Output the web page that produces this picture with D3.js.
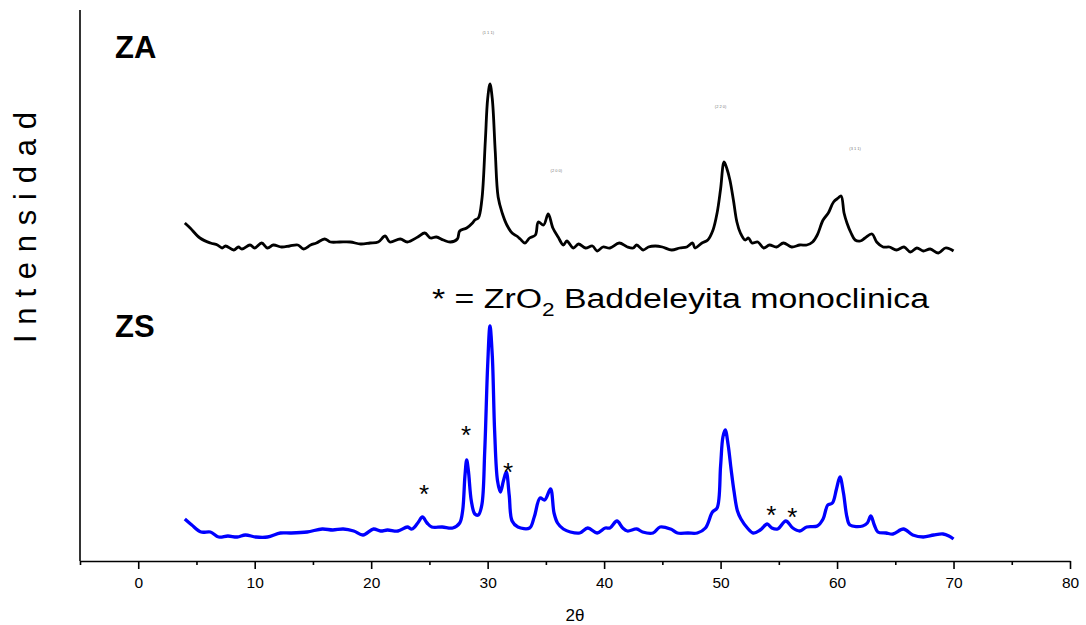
<!DOCTYPE html>
<html>
<head>
<meta charset="utf-8">
<script src="https://cdn.jsdelivr.net/npm/d3@7/dist/d3.min.js"></script>
<style>
  html, body { margin: 0; padding: 0; background: #fff; }
  svg { display: block; }
  text { font-family: Arial, "Liberation Sans", sans-serif; }
</style>
</head>
<body>
<svg id="chart" width="1086" height="625"></svg>
<script>
// X-ray diffraction patterns, 2θ (degrees) vs. intensity (arbitrary units)

// Sample ZA (black trace, offset upward)
const zaPattern = [
  [4.0,338],[4.46,333],[5.3,323],[6.2,318],[6.8,316],[7.2,313],[7.5,315],[8.2,311],[8.6,314],
  [8.9,312],[9.6,316],[10.0,313],[10.6,318],[11.1,313],[11.6,316],[12.3,314],[13.0,315],
  [13.7,316],[14.2,312],[14.8,316],[15.3,318],[16.0,322],[16.5,319],[17.3,319],[18.2,319],
  [19.1,317],[19.9,318],[20.6,319],[21.2,325],[21.6,319],[22.5,322],[23.1,319],[24.0,324],
  [24.6,328],[25.1,323],[25.6,324],[26.2,321],[26.8,319],[27.4,322],[27.6,330],[28.2,333],
  [28.7,338],[28.9,341],[29.2,343],[29.5,361],[29.8,420],[30.0,462],[30.2,477],[30.4,462],
  [30.65,410],[30.9,364],[31.25,348],[31.65,336],[32.1,328],[32.5,325],[32.8,322],[33.2,318],
  [33.6,323],[34.1,326],[34.35,339],[34.8,336],[35.2,347],[35.6,333],[36.05,324],[36.5,316],
  [36.8,320],[37.35,313],[37.8,317],[38.4,313],[39.0,315],[39.4,310],[39.9,314],[40.5,313],
  [41.3,318],[42.0,314],[42.5,313],[42.8,316],[43.35,311],[43.8,314],[44.4,315],[45.0,314],
  [45.8,311],[46.5,313],[47.1,314],[47.6,318],[47.8,313],[48.4,318],[48.9,321],[49.35,331],
  [49.7,348],[50.0,372],[50.3,399],[50.55,392],[50.8,381],[51.1,361],[51.4,339],[51.7,328],
  [52.1,321],[52.4,323],[52.7,318],[53.2,319],[53.7,313],[54.2,316],[54.8,314],[55.4,318],
  [56.1,314],[56.8,316],[57.4,316],[57.9,319],[58.3,326],[58.8,341],[59.25,348],[59.7,359],
  [60.1,363],[60.35,365],[60.6,348],[60.85,338],[61.2,328],[61.55,321],[62.0,320],[62.4,323],
  [63.0,327],[63.4,319],[63.95,314],[64.5,314],[65.1,311],[65.75,314],[66.3,309],[66.85,313],
  [67.4,310],[68.0,312],[68.7,308],[69.3,313],[69.7,312],[70.0,310]
];

// Sample ZS (blue trace)
const zsPattern = [
  [4.0,42],[4.6,36],[5.4,29],[6.2,29],[6.9,24],[7.7,25],[8.5,24],[9.2,26],[10.1,24],[11.1,24],
  [12.2,28],[13.1,28],[14.5,29],[15.8,32],[16.7,31],[17.6,32],[18.5,30],[19.3,26],[20.2,32],
  [20.8,30],[21.4,31],[22.3,30],[23.1,34],[23.5,32],[24.0,38],[24.4,44],[24.8,38],[25.2,34],
  [26.1,34],[27.0,33],[27.6,38],[27.85,50],[28.05,85],[28.2,101],[28.35,90],[28.6,60],
  [28.9,47],[29.2,46],[29.5,56],[29.75,110],[30.0,195],[30.2,235],[30.4,205],[30.6,130],
  [30.85,80],[31.1,69],[31.35,80],[31.6,89],[31.85,66],[32.1,40],[32.6,34],[33.6,33],
  [34.0,44],[34.5,63],[34.9,61],[35.4,72],[35.7,48],[36.0,38],[36.5,32],[37.1,29],[37.9,28],
  [38.6,33],[39.4,28],[40.1,33],[40.5,33],[41.1,40],[41.6,33],[42.0,30],[42.8,32],[43.3,29],
  [44.2,28],[44.8,34],[45.7,32],[46.3,28],[47.2,28],[48.0,28],[48.7,33],[49.3,49],[49.7,53],
  [50.0,95],[50.2,124],[50.4,131],[50.65,116],[50.9,92],[51.15,70],[51.45,50],[51.75,42],
  [52.3,33],[52.8,28],[53.4,31],[54.0,37],[54.4,33],[54.9,32],[55.6,40],[56.2,33],[56.8,30],
  [57.4,34],[58.3,35],[58.8,42],[59.2,56],[59.6,58],[59.95,72],[60.25,84],[60.55,68],
  [60.85,44],[61.1,36],[62.2,35],[62.6,38],[62.9,45],[63.2,36],[63.5,29],[64.2,28],[64.8,27],
  [65.7,32],[66.5,26],[67.4,24],[68.3,26],[69.1,27],[69.6,25],[70.0,22]
];

// ZrO2 baddeleyite (monoclinic) reflections marked with an asterisk: [2θ, label height]
const monoclinicMarks = [[24.55,73],[28.15,132],[31.75,95],[54.35,52],[56.15,50]];

// Miller indices of the main ZA reflections: [2θ, label height, text]
const hklLabels = [[30.05,529,"(1 1 1)"],[35.9,391,"(2 0 0)"],[50.0,455,"(2 2 0)"],[61.55,413,"(3 1 1)"]];

const xTickValues = d3.range(-5, 81, 5);
const xLabelledTicks = [0, 10, 20, 30, 40, 50, 60, 70, 80];

const svg = d3.select("#chart");
const plot = { left: 80, right: 1070, top: 10, bottom: 561 };

const x = d3.scaleLinear().domain([-5, 80]).range([plot.left, plot.right]);
const y = d3.scaleLinear().domain([0, 551]).range([plot.bottom, plot.top]);

// Bottom axis with long ticks every 10° and short ticks in between
const xAxis = d3.axisBottom(x)
  .tickValues(xTickValues)
  .tickSizeOuter(0)
  .tickFormat(d => xLabelledTicks.includes(d) ? d : "");
const gx = svg.append("g").attr("transform", `translate(0,${plot.bottom})`).call(xAxis);
gx.select(".domain").attr("stroke", "#000").attr("stroke-width", 1.6);
gx.selectAll(".tick line")
  .attr("stroke", "#000").attr("stroke-width", 1.6)
  .attr("y2", d => xLabelledTicks.includes(d) ? 8 : 4);
gx.selectAll(".tick text")
  .attr("y", 16).attr("dy", "0.71em")
  .attr("font-size", 15.5)
  .attr("font-family", "Arial, 'Liberation Sans', sans-serif")
  .attr("fill", "#000");

// Left axis: plain line without ticks
svg.append("line")
  .attr("x1", plot.left).attr("x2", plot.left)
  .attr("y1", plot.top).attr("y2", plot.bottom)
  .attr("stroke", "#000").attr("stroke-width", 1.6);

// Traces
const line = d3.line().x(d => x(d[0])).y(d => y(d[1])).curve(d3.curveCatmullRom.alpha(0.5));

svg.append("path").datum(zaPattern)
  .attr("d", line)
  .attr("fill", "none").attr("stroke", "#000").attr("stroke-width", 2.8)
  .attr("stroke-linejoin", "round");

svg.append("path").datum(zsPattern)
  .attr("d", line)
  .attr("fill", "none").attr("stroke", "#0000ff").attr("stroke-width", 3.3)
  .attr("stroke-linejoin", "round");

// Asterisks for monoclinic reflections
svg.selectAll("text.mark").data(monoclinicMarks).join("text")
  .attr("class", "mark")
  .attr("x", d => x(d[0])).attr("y", d => y(d[1]) + 15)
  .attr("text-anchor", "middle")
  .attr("font-size", 26).attr("fill", "#000")
  .text("*");

// Miller index tags above the ZA peaks
svg.selectAll("text.hkl").data(hklLabels).join("text")
  .attr("class", "hkl")
  .attr("x", d => x(d[0])).attr("y", d => y(d[1]) + 1.5)
  .attr("text-anchor", "middle")
  .attr("font-size", 4).attr("fill", "#777")
  .text(d => d[2]);

// Sample names
svg.append("text").attr("x", 115).attr("y", 58)
  .attr("font-size", 31).attr("font-weight", "bold").text("ZA");
svg.append("text").attr("x", 115).attr("y", 337)
  .attr("font-size", 31).attr("font-weight", "bold").text("ZS");

// Legend for the asterisk
const legend = svg.append("text").attr("x", 432).attr("y", 308)
  .attr("font-size", 27)
  .attr("textLength", 497).attr("lengthAdjust", "spacingAndGlyphs");
legend.append("tspan").text("* = ZrO");
legend.append("tspan").attr("font-size", 18).attr("dy", 8).text("2");
legend.append("tspan").attr("dy", -8).text(" Baddeleyita monoclinica");

// Axis titles
svg.append("text")
  .attr("transform", "translate(36,343) rotate(-90)")
  .attr("font-size", 31)
  .attr("textLength", 231).attr("lengthAdjust", "spacing")
  .text("Intensidad");

svg.append("text")
  .attr("x", (plot.left + plot.right) / 2).attr("y", 621)
  .attr("text-anchor", "middle")
  .attr("font-family", "'Liberation Serif', 'Times New Roman', serif")
  .attr("font-size", 17)
  .text("2θ");
</script>
</body>
</html>
